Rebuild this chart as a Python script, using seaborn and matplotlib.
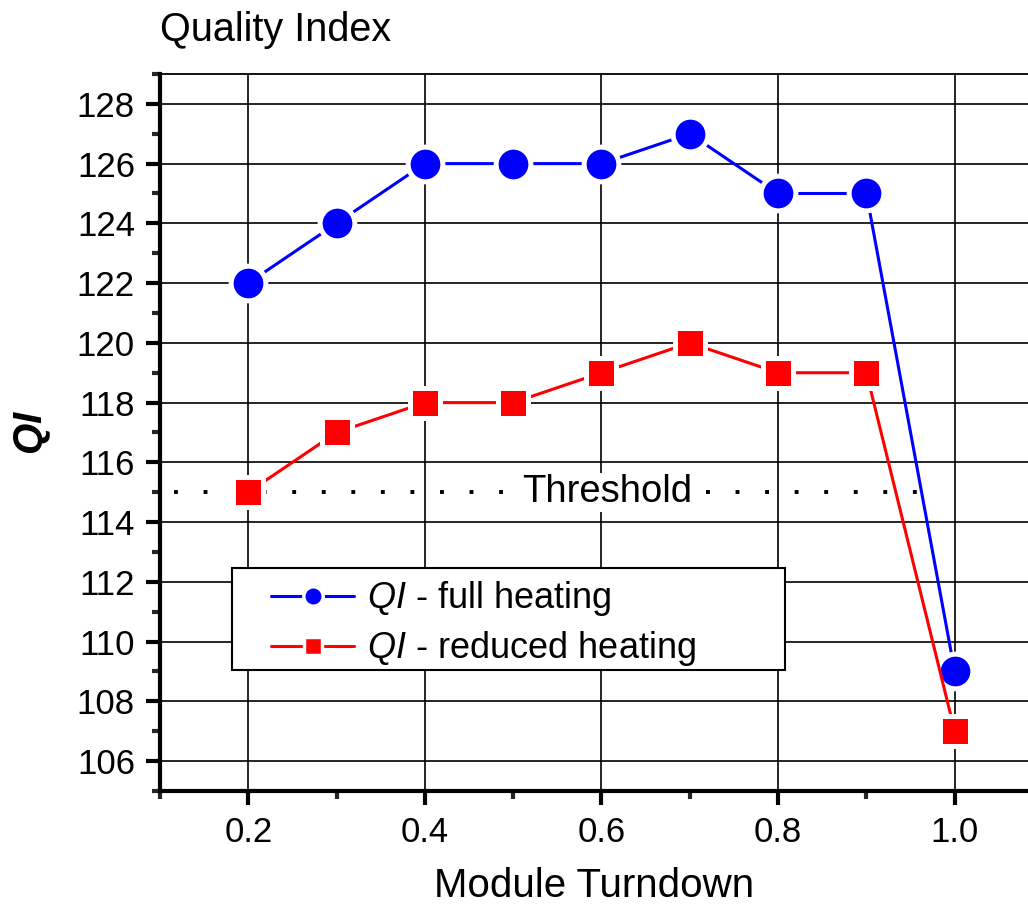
import numpy as np
import pandas as pd
import matplotlib
matplotlib.use('Agg')
import matplotlib.pyplot as plt
from matplotlib.patches import Rectangle
import seaborn as sns

sns.set_style('white')
plt.rcParams['font.family'] = ['Liberation Sans', 'DejaVu Sans']
plt.rcParams['text.color'] = 'black'
plt.rcParams['axes.labelcolor'] = 'black'
plt.rcParams['mathtext.fontset'] = 'custom'
plt.rcParams['mathtext.it'] = 'Liberation Sans:italic'
plt.rcParams['mathtext.bf'] = 'Liberation Sans:bold:italic'

# data
turndown = [0.2, 0.3, 0.4, 0.5, 0.6, 0.7, 0.8, 0.9, 1.0]
qi_full = [122, 124, 126, 126, 126, 127, 125, 125, 109]
qi_reduced = [115, 117, 118, 118, 119, 120, 119, 119, 107]
threshold = 115
label_full = r'$\mathit{QI}$ - full heating'
label_reduced = r'$\mathit{QI}$ - reduced heating'

df = pd.DataFrame({
    'x': turndown * 2,
    'y': qi_full + qi_reduced,
    'series': [label_full] * len(turndown) + [label_reduced] * len(turndown),
})

fig = plt.figure(figsize=(10.28, 9.08), dpi=100)
ax = fig.add_axes([0.1556, 0.1289, 0.8444, 0.7896])

sns.lineplot(data=df, x='x', y='y', hue='series', style='series',
             palette={label_full: '#0000ff', label_reduced: '#ff0000'},
             markers={label_full: 'o', label_reduced: 's'},
             dashes=False, markersize=25, markeredgewidth=3.6,
             markeredgecolor='white', linewidth=2.2, ax=ax, zorder=3)
# square markers a bit smaller
for line in ax.get_lines():
    if line.get_marker() == 's':
        line.set_markersize(22.3)

# threshold line
ax.plot([0.116, 0.985], [threshold, threshold], color='black',
        linestyle=(0, (1, 6.6)), linewidth=2.8, dash_capstyle='butt', zorder=2)
ax.text(0.607, threshold, 'Threshold', ha='center', va='center', fontsize=27.5,
        bbox=dict(facecolor='white', edgecolor='none', pad=1), zorder=2.5)

ax.set_xlim(0.1, 1.083)
ax.set_ylim(105, 129)
ax.set_xticks([0.2, 0.4, 0.6, 0.8, 1.0])
ax.set_xticklabels(['0.2', '0.4', '0.6', '0.8', '1.0'])
ax.set_xticks(np.arange(0.1, 1.05, 0.1), minor=True)
ax.set_yticks(np.arange(106, 129, 2))
ax.set_yticks(np.arange(105, 130, 1), minor=True)

ax.grid(True, which='major', color='black', linewidth=1.2)
ax.set_axisbelow(True)

for s in ['left', 'bottom']:
    ax.spines[s].set_linewidth(3)
    ax.spines[s].set_color('black')
ax.spines['top'].set_linewidth(1.3)
ax.spines['top'].set_color('black')
ax.spines['right'].set_visible(False)

ax.tick_params(which='major', direction='out', length=10, width=3, labelsize=25,
               pad=8, colors='black', left=True, bottom=True)
ax.tick_params(which='minor', direction='out', length=6, width=3,
               left=True, bottom=True)

ax.set_xlabel('Module Turndown', fontsize=29, labelpad=13)
ax.set_ylabel(r'$\mathbf{QI}$', fontsize=29, labelpad=17)
ax.set_title('Quality Index', fontsize=28.5, loc='left', pad=24)

# legend box drawn separately (wide right padding as in the original)
ax.add_patch(Rectangle((0.083, 0.169), 0.637, 0.142, transform=ax.transAxes,
                       facecolor='white', edgecolor='black', linewidth=1.5,
                       zorder=4))
leg = ax.legend(loc='upper left', bbox_to_anchor=(0.128, 0.295), fontsize=26,
                frameon=False, handlelength=2.3, borderpad=0, labelspacing=0.3,
                handletextpad=0.35, borderaxespad=0)
leg.set_zorder(5)
for h in leg.legend_handles:
    h.set_markeredgecolor('white')
    h.set_markeredgewidth(2.5)
    if h.get_marker() == 'o':
        h.set_markersize(14)
    else:
        h.set_markersize(12.5)

plt.savefig('out.png', dpi=100)
plt.close()
